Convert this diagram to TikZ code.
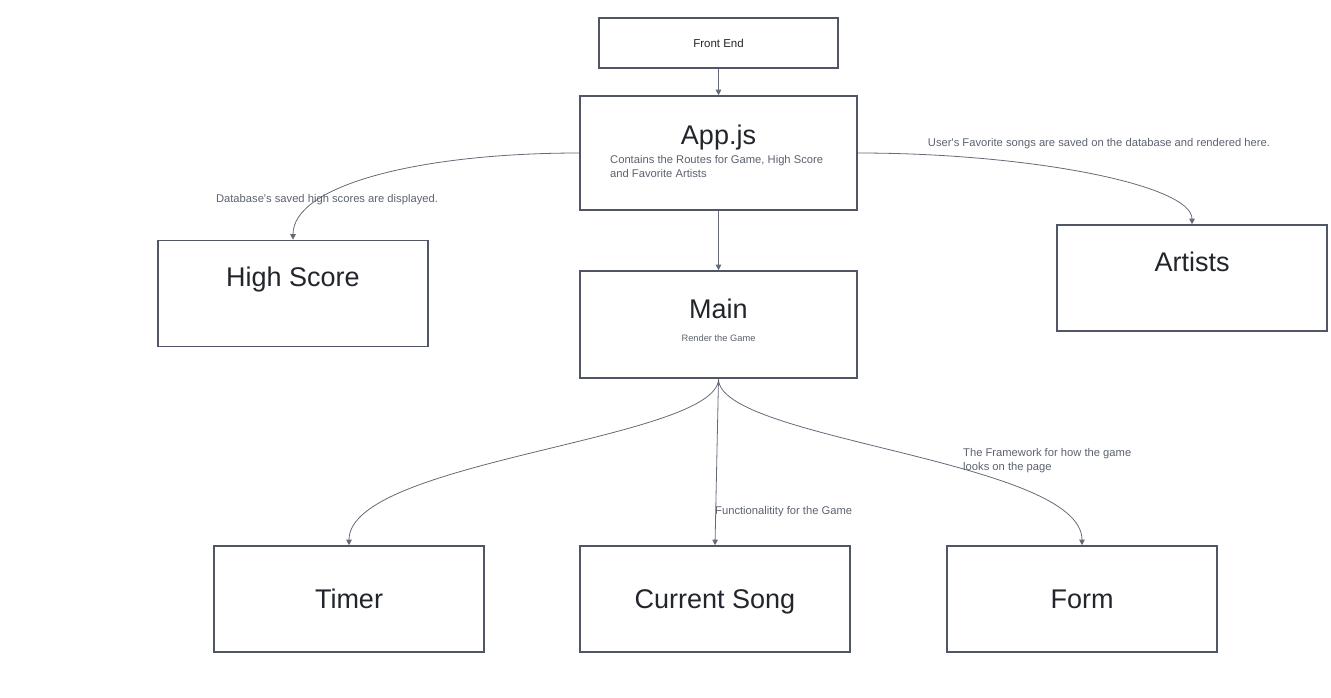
\documentclass[tikz,border=0pt]{standalone}
\usepackage{fontspec}
\setmainfont{Liberation Sans}
\usetikzlibrary{arrows.meta}
\definecolor{boxgray}{RGB}{80,86,102}
\definecolor{linkgray}{RGB}{100,106,120}
\definecolor{notegray}{RGB}{92,98,112}
\definecolor{titlegray}{RGB}{34,37,44}
\begin{document}
\begin{tikzpicture}[x=1pt,y=-1pt,
        block/.style={draw=boxgray,line width=1.6pt,fill=white,inner sep=0pt,minimum width=270pt,minimum height=106pt},
        title/.style={text=titlegray,inner sep=0pt,text depth=0pt,font=\fontsize{27}{30}\selectfont},
        note/.style={text=notegray,inner sep=0pt,align=left,font=\fontsize{11.2}{14}\selectfont},
        link/.style={draw=linkgray,line width=0.8pt,-{Triangle[length=5.5pt,width=5.5pt]}}]
            \useasboundingbox (0,0) rectangle (1331,697);
            % boxes
            \node[block,minimum width=239pt,minimum height=50pt,text=titlegray,font=\fontsize{11.5}{14}\selectfont] (front) at (718.5,43) {Front End};
            \node[block,minimum width=277pt,minimum height=114pt] (app) at (718.5,153) {};
            \node[block] (hs) at (293,293.5) {};
            \node[block,minimum width=277pt,minimum height=107pt] (main) at (718.5,324.5) {};
            \node[block] (art) at (1192,278) {};
            \node[block,title] (timer) at (349,599) {Timer};
            \node[block,title] (song) at (715,599) {Current Song};
            \node[block,title] (form) at (1082,599) {Form};
            % texts in the boxes
            \node[title] (apptitle) at (718.5,135) {App.js};
            \node[note,anchor=north west] (appnote) at (610,155) {Contains the Routes for Game, High Score\\and Favorite Artists};
            \node[title] (hstitle) at (293,277) {High Score};
            \node[title] (arttitle) at (1192,262) {Artists};
            \node[title] (maintitle) at (718.5,309) {Main};
            \node[note,font=\fontsize{9.3}{12}\selectfont] (mainnote) at (718.5,338) {Render the Game};
            % links
            \draw[link] (front) -- (app);
            \draw[link] (app) -- (main);
            \draw[link] (app.west) .. controls (420,153) and (293,185) .. (hs.north);
            \draw[link] (app.east) .. controls (1030,153) and (1192,185) .. (art.north);
            \draw[link] (main.south) .. controls (718,440) and (349,460) .. (timer.north);
            \draw[link] (main.south) -- (song.north);
            \draw[link] (main.south) .. controls (718,440) and (1082,460) .. (form.north);
            \node[note] (hslabel) at (327,200) {Database\textquotesingle s saved high scores are displayed.};
            \node[note] (artlabel) at (1099,144) {User\textquotesingle s Favorite songs are saved on the database and rendered here.};
            \node[note,anchor=west] (songlabel) at (715,512) {Functionalitity for the Game};
            \node[note,anchor=north west] (formlabel) at (963,448) {The Framework for how the game\\looks on the page};
        \end{tikzpicture}
\end{document}
